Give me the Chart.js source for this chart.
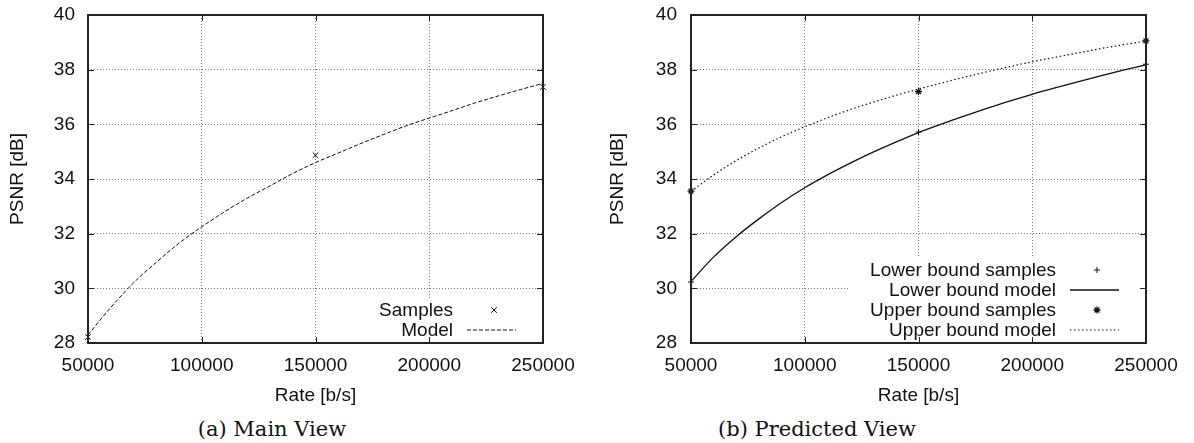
<!DOCTYPE html>
<html>
<head>
<meta charset="utf-8">
<script src="https://cdn.jsdelivr.net/npm/chart.js@4.4.1/dist/chart.umd.min.js"></script>
<style>
    body { margin: 0; background: #fff; }
    .panel { position: absolute; top: 0; width: 597px; height: 410px; }
    .caption {
        position: absolute; top: 417px; width: 300px; text-align: center;
        font-family: "DejaVu Serif", serif; font-size: 21px; color: #111;
    }
</style>
</head>
<body>
<div class="panel" style="left:0"><canvas id="mainViewChart"></canvas></div>
<div class="panel" style="left:597px"><canvas id="predictedViewChart"></canvas></div>
<div class="caption" style="left:122px">(a) Main View</div>
<div class="caption" style="left:667px">(b) Predicted View</div>
<script>
// Tick values
const xTicks = [50000, 100000, 150000, 200000, 250000];
const yTicks = [28, 30, 32, 34, 36, 38, 40];

// Sample rates (b/s)
const sampleRates = [50000, 150000, 250000];
const modelRates = [50000, 60000, 70000, 80000, 90000, 100000, 110000, 120000, 130000, 140000,
    150000, 160000, 170000, 180000, 190000, 200000, 210000, 220000, 230000, 240000, 250000];

// (a) Main view
const mainSamples = [28.22, 34.87, 37.37];
const mainModel = [28.3, 29.3, 30.2, 30.95, 31.65, 32.25, 32.8, 33.3, 33.75, 34.2,
    34.6, 34.95, 35.3, 35.63, 35.95, 36.23, 36.5, 36.78, 37.03, 37.27, 37.5];

// (b) Predicted view
const lowerSamples = [30.23, 35.72, 38.2];
const lowerModel = [30.25, 31.15, 31.9, 32.55, 33.15, 33.68, 34.15, 34.58, 34.98, 35.35,
    35.7, 36.01, 36.3, 36.58, 36.85, 37.1, 37.33, 37.55, 37.77, 37.98, 38.18];
const upperSamples = [33.56, 37.2, 39.05];
const upperModel = [33.55, 34.15, 34.68, 35.14, 35.55, 35.91, 36.24, 36.54, 36.81, 37.06,
    37.29, 37.51, 37.72, 37.92, 38.11, 38.29, 38.45, 38.61, 38.77, 38.91, 39.05];

const FONT = "'Liberation Sans', Arial, sans-serif";
const SIZE = 19;
const INK = "#111";

function points(xs, ys) {
    return xs.map((x, i) => ({ x: x, y: ys[i] }));
}

// gnuplot style key, bottom right inside the plot, text right aligned
const gnuKey = {
    id: "gnuKey",
    afterDatasetsDraw(chart) {
        const { ctx, chartArea } = chart;
        const sets = chart.data.datasets;
        const rowH = 20;
        const textRight = chartArea.right - 90;
        const y0 = chartArea.bottom - 13 - (sets.length - 1) * rowH;
        ctx.save();
        ctx.font = SIZE + "px " + FONT;
        let wMax = 0;
        sets.forEach((ds) => { wMax = Math.max(wMax, ctx.measureText(ds.label).width); });
        const boxLeft = textRight - wMax - 22;
        const boxTop = y0 - 12;
        ctx.fillStyle = "#fff";
        ctx.fillRect(boxLeft, boxTop, chartArea.right - boxLeft - 1, chartArea.bottom - boxTop - 1);
        sets.forEach((ds, i) => {
            const y = y0 + i * rowH;
            ctx.fillStyle = INK;
            ctx.textAlign = "right";
            ctx.textBaseline = "middle";
            ctx.fillText(ds.label, textRight, y + 1);
            ctx.strokeStyle = ds.borderColor;
            if (ds.showLine) {
                ctx.lineWidth = ds.borderWidth;
                ctx.setLineDash(ds.borderDash || []);
                ctx.beginPath();
                ctx.moveTo(chartArea.right - 76, y);
                ctx.lineTo(chartArea.right - 27, y);
                ctx.stroke();
                ctx.setLineDash([]);
            } else {
                Chart.helpers.drawPoint(ctx, {
                    pointStyle: ds.pointStyle, radius: ds.pointRadius,
                    rotation: 0, borderWidth: ds.borderWidth,
                }, chartArea.right - 49, y);
            }
        });
        ctx.restore();
    },
};

// frame with inward ticks on all four sides
const frame = {
    id: "frame",
    afterDraw(chart) {
        const { ctx, chartArea: a, scales } = chart;
        ctx.save();
        ctx.strokeStyle = "#222";
        ctx.lineWidth = 1;
        ctx.beginPath();
        xTicks.forEach((v) => {
            const x = Math.round(scales.x.getPixelForValue(v)) + 0.5;
            ctx.moveTo(x, a.bottom); ctx.lineTo(x, a.bottom - 6);
            ctx.moveTo(x, a.top); ctx.lineTo(x, a.top + 6);
        });
        yTicks.forEach((v) => {
            const y = Math.round(scales.y.getPixelForValue(v)) + 0.5;
            ctx.moveTo(a.left, y); ctx.lineTo(a.left + 6, y);
            ctx.moveTo(a.right, y); ctx.lineTo(a.right - 6, y);
        });
        ctx.stroke();
        ctx.lineWidth = 2;
        ctx.strokeRect(a.left, a.top, a.right - a.left, a.bottom - a.top);
        ctx.restore();
    },
};

function scales(yWidth, tickPad, titlePad) {
    return {
        x: {
            type: "linear",
            min: 50000,
            max: 250000,
            afterBuildTicks: (s) => { s.ticks = xTicks.map((v) => ({ value: v })); },
            afterFit: (s) => { s.height = 67; },
            ticks: { color: INK, font: { family: FONT, size: SIZE }, padding: 11, maxRotation: 0, callback: (v) => String(v) },
            grid: { color: "#7a7a7a", lineWidth: 1, drawTicks: false },
            border: { display: false, dash: [1, 2] },
            title: { display: true, text: "Rate [b/s]", color: INK, font: { family: FONT, size: SIZE }, padding: { top: 0, bottom: 3 } },
        },
        y: {
            type: "linear",
            min: 28,
            max: 40,
            afterBuildTicks: (s) => { s.ticks = yTicks.map((v) => ({ value: v })); },
            afterFit: (s) => {
                s.width = yWidth;
                s.paddingTop = 0;
                s.paddingBottom = 0;
            },
            ticks: { color: INK, font: { family: FONT, size: SIZE }, padding: tickPad, callback: (v) => String(v) },
            grid: { color: "#7a7a7a", lineWidth: 1, drawTicks: false },
            border: { display: false, dash: [1, 2] },
            title: { display: true, text: "PSNR [dB]", color: INK, font: { family: FONT, size: SIZE }, padding: { top: titlePad, bottom: 0 } },
        },
    };
}

const baseOptions = (yWidth, rightPad, tickPad, titlePad) => ({
    responsive: true,
    maintainAspectRatio: false,
    animation: false,
    layout: { padding: { top: 15, right: rightPad, left: 0, bottom: 0 } },
    plugins: { legend: { display: false }, tooltip: { enabled: false } },
    scales: scales(yWidth, tickPad, titlePad),
});

// 1. Main View
new Chart(document.getElementById("mainViewChart"), {
    type: "scatter",
    data: {
        datasets: [
            {
                label: "Samples",
                data: points(sampleRates, mainSamples),
                pointStyle: "crossRot",
                pointRadius: 4,
                borderColor: INK,
                borderWidth: 1,
                clip: false,
            },
            {
                label: "Model",
                data: points(modelRates, mainModel),
                showLine: true,
                pointRadius: 0,
                borderColor: INK,
                borderWidth: 1,
                borderDash: [4, 2],
                cubicInterpolationMode: "monotone",
            },
        ],
    },
    options: baseOptions(88, 54, 13, 6),
    plugins: [gnuKey, frame],
});

// 2. Predicted View
new Chart(document.getElementById("predictedViewChart"), {
    type: "scatter",
    data: {
        datasets: [
            {
                label: "Lower bound samples",
                data: points(sampleRates, lowerSamples),
                pointStyle: "cross",
                pointRadius: 3,
                borderColor: INK,
                borderWidth: 1,
                clip: false,
            },
            {
                label: "Lower bound model",
                data: points(modelRates, lowerModel),
                showLine: true,
                pointRadius: 0,
                borderColor: INK,
                borderWidth: 1.3,
                cubicInterpolationMode: "monotone",
            },
            {
                label: "Upper bound samples",
                data: points(sampleRates, upperSamples),
                pointStyle: "star",
                pointRadius: 3.5,
                borderColor: INK,
                borderWidth: 1.2,
                clip: false,
            },
            {
                label: "Upper bound model",
                data: points(modelRates, upperModel),
                showLine: true,
                pointRadius: 0,
                borderColor: INK,
                borderWidth: 1.2,
                borderDash: [1.5, 2.5],
                cubicInterpolationMode: "monotone",
            },
        ],
    },
    options: baseOptions(94, 48, 14, 9),
    plugins: [gnuKey, frame],
});
</script>
</body>
</html>
